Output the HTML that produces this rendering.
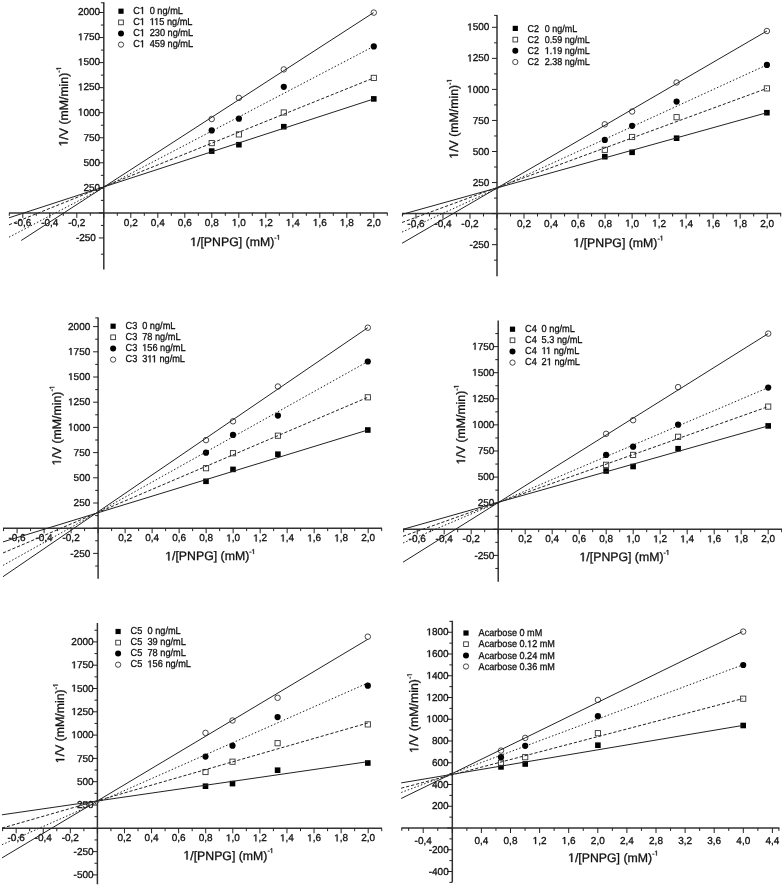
<!DOCTYPE html>
<html><head><meta charset="utf-8"><style>
html,body{margin:0;padding:0;background:#fff;}
svg{display:block;will-change:transform;}
text{font-family:"Liberation Sans", sans-serif;stroke:#111;stroke-width:0.3px;text-rendering:geometricPrecision;}
.o1{fill:transparent;stroke:transparent;}
</style></head><body>
<svg width="784" height="887" viewBox="0 0 784 887" font-family='"Liberation Sans", sans-serif'>
<defs><filter id="soft" x="0" y="0" width="100%" height="100%"><feGaussianBlur stdDeviation="0.35"/></filter></defs>
<rect width="784" height="887" fill="#fff"/>
<g filter="url(#soft)">
<line x1="9" y1="212.9" x2="387.6" y2="212.9" stroke="#333" stroke-width="1.5"/>
<line x1="103.8" y1="2.3" x2="103.8" y2="269.6" stroke="#333" stroke-width="1.5"/>
<line x1="9.3" y1="212.9" x2="9.3" y2="215.8" stroke="#222" stroke-width="1.0"/>
<line x1="22.8" y1="212.9" x2="22.8" y2="217.9" stroke="#222" stroke-width="1.0"/>
<line x1="36.3" y1="212.9" x2="36.3" y2="215.8" stroke="#222" stroke-width="1.0"/>
<line x1="49.8" y1="212.9" x2="49.8" y2="217.9" stroke="#222" stroke-width="1.0"/>
<line x1="63.3" y1="212.9" x2="63.3" y2="215.8" stroke="#222" stroke-width="1.0"/>
<line x1="76.8" y1="212.9" x2="76.8" y2="217.9" stroke="#222" stroke-width="1.0"/>
<line x1="90.3" y1="212.9" x2="90.3" y2="215.8" stroke="#222" stroke-width="1.0"/>
<line x1="103.8" y1="212.9" x2="103.8" y2="217.9" stroke="#222" stroke-width="1.0"/>
<line x1="117.3" y1="212.9" x2="117.3" y2="215.8" stroke="#222" stroke-width="1.0"/>
<line x1="130.8" y1="212.9" x2="130.8" y2="217.9" stroke="#222" stroke-width="1.0"/>
<line x1="144.3" y1="212.9" x2="144.3" y2="215.8" stroke="#222" stroke-width="1.0"/>
<line x1="157.8" y1="212.9" x2="157.8" y2="217.9" stroke="#222" stroke-width="1.0"/>
<line x1="171.3" y1="212.9" x2="171.3" y2="215.8" stroke="#222" stroke-width="1.0"/>
<line x1="184.8" y1="212.9" x2="184.8" y2="217.9" stroke="#222" stroke-width="1.0"/>
<line x1="198.3" y1="212.9" x2="198.3" y2="215.8" stroke="#222" stroke-width="1.0"/>
<line x1="211.8" y1="212.9" x2="211.8" y2="217.9" stroke="#222" stroke-width="1.0"/>
<line x1="225.3" y1="212.9" x2="225.3" y2="215.8" stroke="#222" stroke-width="1.0"/>
<line x1="238.8" y1="212.9" x2="238.8" y2="217.9" stroke="#222" stroke-width="1.0"/>
<line x1="252.3" y1="212.9" x2="252.3" y2="215.8" stroke="#222" stroke-width="1.0"/>
<line x1="265.8" y1="212.9" x2="265.8" y2="217.9" stroke="#222" stroke-width="1.0"/>
<line x1="279.3" y1="212.9" x2="279.3" y2="215.8" stroke="#222" stroke-width="1.0"/>
<line x1="292.8" y1="212.9" x2="292.8" y2="217.9" stroke="#222" stroke-width="1.0"/>
<line x1="306.3" y1="212.9" x2="306.3" y2="215.8" stroke="#222" stroke-width="1.0"/>
<line x1="319.8" y1="212.9" x2="319.8" y2="217.9" stroke="#222" stroke-width="1.0"/>
<line x1="333.3" y1="212.9" x2="333.3" y2="215.8" stroke="#222" stroke-width="1.0"/>
<line x1="346.8" y1="212.9" x2="346.8" y2="217.9" stroke="#222" stroke-width="1.0"/>
<line x1="360.3" y1="212.9" x2="360.3" y2="215.8" stroke="#222" stroke-width="1.0"/>
<line x1="373.8" y1="212.9" x2="373.8" y2="217.9" stroke="#222" stroke-width="1.0"/>
<line x1="387.3" y1="212.9" x2="387.3" y2="215.8" stroke="#222" stroke-width="1.0"/>
<line x1="98.8" y1="237.95" x2="103.8" y2="237.95" stroke="#222" stroke-width="1.0"/>
<line x1="100.9" y1="225.43" x2="103.8" y2="225.43" stroke="#222" stroke-width="1.0"/>
<line x1="98.8" y1="212.9" x2="103.8" y2="212.9" stroke="#222" stroke-width="1.0"/>
<line x1="100.9" y1="200.38" x2="103.8" y2="200.38" stroke="#222" stroke-width="1.0"/>
<line x1="98.8" y1="187.85" x2="103.8" y2="187.85" stroke="#222" stroke-width="1.0"/>
<line x1="100.9" y1="175.33" x2="103.8" y2="175.33" stroke="#222" stroke-width="1.0"/>
<line x1="98.8" y1="162.8" x2="103.8" y2="162.8" stroke="#222" stroke-width="1.0"/>
<line x1="100.9" y1="150.28" x2="103.8" y2="150.28" stroke="#222" stroke-width="1.0"/>
<line x1="98.8" y1="137.75" x2="103.8" y2="137.75" stroke="#222" stroke-width="1.0"/>
<line x1="100.9" y1="125.23" x2="103.8" y2="125.23" stroke="#222" stroke-width="1.0"/>
<line x1="98.8" y1="112.7" x2="103.8" y2="112.7" stroke="#222" stroke-width="1.0"/>
<line x1="100.9" y1="100.18" x2="103.8" y2="100.18" stroke="#222" stroke-width="1.0"/>
<line x1="98.8" y1="87.65" x2="103.8" y2="87.65" stroke="#222" stroke-width="1.0"/>
<line x1="100.9" y1="75.12" x2="103.8" y2="75.12" stroke="#222" stroke-width="1.0"/>
<line x1="98.8" y1="62.6" x2="103.8" y2="62.6" stroke="#222" stroke-width="1.0"/>
<line x1="100.9" y1="50.08" x2="103.8" y2="50.08" stroke="#222" stroke-width="1.0"/>
<line x1="98.8" y1="37.55" x2="103.8" y2="37.55" stroke="#222" stroke-width="1.0"/>
<line x1="100.9" y1="25.03" x2="103.8" y2="25.03" stroke="#222" stroke-width="1.0"/>
<line x1="98.8" y1="12.5" x2="103.8" y2="12.5" stroke="#222" stroke-width="1.0"/>
<line x1="100.9" y1="254.2" x2="103.8" y2="254.2" stroke="#222" stroke-width="1.0"/>
<line x1="100.9" y1="2.8" x2="103.8" y2="2.8" stroke="#222" stroke-width="1.0"/>
<text x="22.8" y="225.9" font-size="10" text-anchor="middle" fill="#111">-0,6</text>
<text x="49.8" y="225.9" font-size="10" text-anchor="middle" fill="#111">-0,4</text>
<text x="76.8" y="225.9" font-size="10" text-anchor="middle" fill="#111">-0,2</text>
<text x="130.8" y="225.9" font-size="10" text-anchor="middle" fill="#111">0,2</text>
<text x="157.8" y="225.9" font-size="10" text-anchor="middle" fill="#111">0,4</text>
<text x="184.8" y="225.9" font-size="10" text-anchor="middle" fill="#111">0,6</text>
<text x="211.8" y="225.9" font-size="10" text-anchor="middle" fill="#111">0,8</text>
<text x="238.8" y="225.9" font-size="10" text-anchor="middle" fill="#111"><tspan class="o1">1</tspan>,0</text>
<text x="265.8" y="225.9" font-size="10" text-anchor="middle" fill="#111"><tspan class="o1">1</tspan>,2</text>
<text x="292.8" y="225.9" font-size="10" text-anchor="middle" fill="#111"><tspan class="o1">1</tspan>,4</text>
<text x="319.8" y="225.9" font-size="10" text-anchor="middle" fill="#111"><tspan class="o1">1</tspan>,6</text>
<text x="346.8" y="225.9" font-size="10" text-anchor="middle" fill="#111"><tspan class="o1">1</tspan>,8</text>
<text x="373.8" y="225.9" font-size="10" text-anchor="middle" fill="#111">2,0</text>
<text x="95.9" y="240.75" font-size="10" text-anchor="end" fill="#111">-250</text>
<text x="100.2" y="190.65" font-size="10" text-anchor="end" fill="#111">250</text>
<text x="100.2" y="165.6" font-size="10" text-anchor="end" fill="#111">500</text>
<text x="100.2" y="140.55" font-size="10" text-anchor="end" fill="#111">750</text>
<text x="100.2" y="115.5" font-size="10" text-anchor="end" fill="#111"><tspan class="o1">1</tspan>000</text>
<text x="100.2" y="90.45" font-size="10" text-anchor="end" fill="#111"><tspan class="o1">1</tspan>250</text>
<text x="100.2" y="65.4" font-size="10" text-anchor="end" fill="#111"><tspan class="o1">1</tspan>500</text>
<text x="100.2" y="40.35" font-size="10" text-anchor="end" fill="#111"><tspan class="o1">1</tspan>750</text>
<text x="100.2" y="15.3" font-size="10" text-anchor="end" fill="#111">2000</text>
<text x="190.2" y="246.1" font-size="12.3" fill="#111"><tspan class="o1">1</tspan>/[PNPG] (mM)<tspan font-size="6.89" dy="-6.40">-<tspan class="o1">1</tspan></tspan></text>
<text transform="translate(67.5,146.5) rotate(-90)" font-size="12.3" fill="#111"><tspan class="o1">1</tspan>/V (mM/min)<tspan font-size="6.89" dy="-6.40">-<tspan class="o1">1</tspan></tspan></text>
<rect x="208.9" y="148.3" width="5.6" height="5.6" fill="#000"/>
<rect x="236.1" y="141.9" width="5.6" height="5.6" fill="#000"/>
<rect x="281" y="123.9" width="5.6" height="5.6" fill="#000"/>
<rect x="371" y="96.1" width="5.6" height="5.6" fill="#000"/>
<rect x="209.1" y="140.5" width="5.2" height="5.2" fill="#fff" stroke="#333" stroke-width="0.9"/>
<rect x="236.3" y="131.8" width="5.2" height="5.2" fill="#fff" stroke="#333" stroke-width="0.9"/>
<rect x="281.2" y="109.9" width="5.2" height="5.2" fill="#fff" stroke="#333" stroke-width="0.9"/>
<rect x="371.2" y="75.3" width="5.2" height="5.2" fill="#fff" stroke="#333" stroke-width="0.9"/>
<circle cx="211.7" cy="130.4" r="3.1" fill="#000"/>
<circle cx="238.9" cy="118.7" r="3.1" fill="#000"/>
<circle cx="283.8" cy="86.8" r="3.1" fill="#000"/>
<circle cx="373.8" cy="46.4" r="3.1" fill="#000"/>
<circle cx="211.7" cy="119" r="2.75" fill="#fff" stroke="#333" stroke-width="0.9"/>
<circle cx="238.9" cy="97.9" r="2.75" fill="#fff" stroke="#333" stroke-width="0.9"/>
<circle cx="283.8" cy="69.4" r="2.75" fill="#fff" stroke="#333" stroke-width="0.9"/>
<circle cx="373.8" cy="12.6" r="2.75" fill="#fff" stroke="#333" stroke-width="0.9"/>
<line x1="9" y1="217.8" x2="373.6" y2="99" stroke="#222" stroke-width="1.0"/>
<line x1="9" y1="224.8" x2="373.6" y2="78" stroke="#222" stroke-width="1.0" stroke-dasharray="3.2 1.9"/>
<line x1="9" y1="237.2" x2="373.6" y2="46.4" stroke="#222" stroke-width="1.0" stroke-dasharray="1.5 2.0"/>
<line x1="21.2" y1="240.5" x2="373.6" y2="12.6" stroke="#222" stroke-width="1.0"/>
<rect x="118.4" y="8.6" width="5.2" height="5.2" fill="#000"/>
<text transform="translate(133.2,13.9) scale(0.9091,1)" font-size="10.12" fill="#111">C<tspan class="o1">1</tspan></text>
<text transform="translate(149.7,13.9) scale(0.9091,1)" font-size="10.12" fill="#111">0 ng/mL</text>
<rect x="118.65" y="20.05" width="4.7" height="4.7" fill="#fff" stroke="#333" stroke-width="0.9"/>
<text transform="translate(133.2,25.1) scale(0.9091,1)" font-size="10.12" fill="#111">C<tspan class="o1">1</tspan></text>
<text transform="translate(149.7,25.1) scale(0.9091,1)" font-size="10.12" fill="#111"><tspan class="o1">1</tspan><tspan class="o1">1</tspan>5 ng/mL</text>
<circle cx="121" cy="33.5" r="3" fill="#000"/>
<text transform="translate(133.2,36.2) scale(0.9091,1)" font-size="10.12" fill="#111">C<tspan class="o1">1</tspan></text>
<text transform="translate(149.7,36.2) scale(0.9091,1)" font-size="10.12" fill="#111">230 ng/mL</text>
<circle cx="121" cy="44.6" r="2.65" fill="#fff" stroke="#333" stroke-width="0.9"/>
<text transform="translate(133.2,47.3) scale(0.9091,1)" font-size="10.12" fill="#111">C<tspan class="o1">1</tspan></text>
<text transform="translate(149.7,47.3) scale(0.9091,1)" font-size="10.12" fill="#111">459 ng/mL</text>
<line x1="402" y1="213.6" x2="781.2" y2="213.6" stroke="#333" stroke-width="1.5"/>
<line x1="497" y1="14.9" x2="497" y2="276.3" stroke="#333" stroke-width="1.5"/>
<line x1="402.43" y1="213.6" x2="402.43" y2="216.5" stroke="#222" stroke-width="1.0"/>
<line x1="415.94" y1="213.6" x2="415.94" y2="218.6" stroke="#222" stroke-width="1.0"/>
<line x1="429.45" y1="213.6" x2="429.45" y2="216.5" stroke="#222" stroke-width="1.0"/>
<line x1="442.96" y1="213.6" x2="442.96" y2="218.6" stroke="#222" stroke-width="1.0"/>
<line x1="456.47" y1="213.6" x2="456.47" y2="216.5" stroke="#222" stroke-width="1.0"/>
<line x1="469.98" y1="213.6" x2="469.98" y2="218.6" stroke="#222" stroke-width="1.0"/>
<line x1="483.49" y1="213.6" x2="483.49" y2="216.5" stroke="#222" stroke-width="1.0"/>
<line x1="497" y1="213.6" x2="497" y2="218.6" stroke="#222" stroke-width="1.0"/>
<line x1="510.51" y1="213.6" x2="510.51" y2="216.5" stroke="#222" stroke-width="1.0"/>
<line x1="524.02" y1="213.6" x2="524.02" y2="218.6" stroke="#222" stroke-width="1.0"/>
<line x1="537.53" y1="213.6" x2="537.53" y2="216.5" stroke="#222" stroke-width="1.0"/>
<line x1="551.04" y1="213.6" x2="551.04" y2="218.6" stroke="#222" stroke-width="1.0"/>
<line x1="564.55" y1="213.6" x2="564.55" y2="216.5" stroke="#222" stroke-width="1.0"/>
<line x1="578.06" y1="213.6" x2="578.06" y2="218.6" stroke="#222" stroke-width="1.0"/>
<line x1="591.57" y1="213.6" x2="591.57" y2="216.5" stroke="#222" stroke-width="1.0"/>
<line x1="605.08" y1="213.6" x2="605.08" y2="218.6" stroke="#222" stroke-width="1.0"/>
<line x1="618.59" y1="213.6" x2="618.59" y2="216.5" stroke="#222" stroke-width="1.0"/>
<line x1="632.1" y1="213.6" x2="632.1" y2="218.6" stroke="#222" stroke-width="1.0"/>
<line x1="645.61" y1="213.6" x2="645.61" y2="216.5" stroke="#222" stroke-width="1.0"/>
<line x1="659.12" y1="213.6" x2="659.12" y2="218.6" stroke="#222" stroke-width="1.0"/>
<line x1="672.63" y1="213.6" x2="672.63" y2="216.5" stroke="#222" stroke-width="1.0"/>
<line x1="686.14" y1="213.6" x2="686.14" y2="218.6" stroke="#222" stroke-width="1.0"/>
<line x1="699.65" y1="213.6" x2="699.65" y2="216.5" stroke="#222" stroke-width="1.0"/>
<line x1="713.16" y1="213.6" x2="713.16" y2="218.6" stroke="#222" stroke-width="1.0"/>
<line x1="726.67" y1="213.6" x2="726.67" y2="216.5" stroke="#222" stroke-width="1.0"/>
<line x1="740.18" y1="213.6" x2="740.18" y2="218.6" stroke="#222" stroke-width="1.0"/>
<line x1="753.69" y1="213.6" x2="753.69" y2="216.5" stroke="#222" stroke-width="1.0"/>
<line x1="767.2" y1="213.6" x2="767.2" y2="218.6" stroke="#222" stroke-width="1.0"/>
<line x1="780.71" y1="213.6" x2="780.71" y2="216.5" stroke="#222" stroke-width="1.0"/>
<line x1="494.1" y1="260.18" x2="497" y2="260.18" stroke="#222" stroke-width="1.0"/>
<line x1="492" y1="244.65" x2="497" y2="244.65" stroke="#222" stroke-width="1.0"/>
<line x1="494.1" y1="229.12" x2="497" y2="229.12" stroke="#222" stroke-width="1.0"/>
<line x1="492" y1="213.6" x2="497" y2="213.6" stroke="#222" stroke-width="1.0"/>
<line x1="494.1" y1="198.07" x2="497" y2="198.07" stroke="#222" stroke-width="1.0"/>
<line x1="492" y1="182.55" x2="497" y2="182.55" stroke="#222" stroke-width="1.0"/>
<line x1="494.1" y1="167.02" x2="497" y2="167.02" stroke="#222" stroke-width="1.0"/>
<line x1="492" y1="151.5" x2="497" y2="151.5" stroke="#222" stroke-width="1.0"/>
<line x1="494.1" y1="135.97" x2="497" y2="135.97" stroke="#222" stroke-width="1.0"/>
<line x1="492" y1="120.45" x2="497" y2="120.45" stroke="#222" stroke-width="1.0"/>
<line x1="494.1" y1="104.92" x2="497" y2="104.92" stroke="#222" stroke-width="1.0"/>
<line x1="492" y1="89.4" x2="497" y2="89.4" stroke="#222" stroke-width="1.0"/>
<line x1="494.1" y1="73.88" x2="497" y2="73.88" stroke="#222" stroke-width="1.0"/>
<line x1="492" y1="58.35" x2="497" y2="58.35" stroke="#222" stroke-width="1.0"/>
<line x1="494.1" y1="42.82" x2="497" y2="42.82" stroke="#222" stroke-width="1.0"/>
<line x1="492" y1="27.3" x2="497" y2="27.3" stroke="#222" stroke-width="1.0"/>
<line x1="494.1" y1="15.4" x2="497" y2="15.4" stroke="#222" stroke-width="1.0"/>
<text x="415.94" y="226.6" font-size="10" text-anchor="middle" fill="#111">-0,6</text>
<text x="442.96" y="226.6" font-size="10" text-anchor="middle" fill="#111">-0,4</text>
<text x="469.98" y="226.6" font-size="10" text-anchor="middle" fill="#111">-0,2</text>
<text x="524.02" y="226.6" font-size="10" text-anchor="middle" fill="#111">0,2</text>
<text x="551.04" y="226.6" font-size="10" text-anchor="middle" fill="#111">0,4</text>
<text x="578.06" y="226.6" font-size="10" text-anchor="middle" fill="#111">0,6</text>
<text x="605.08" y="226.6" font-size="10" text-anchor="middle" fill="#111">0,8</text>
<text x="632.1" y="226.6" font-size="10" text-anchor="middle" fill="#111"><tspan class="o1">1</tspan>,0</text>
<text x="659.12" y="226.6" font-size="10" text-anchor="middle" fill="#111"><tspan class="o1">1</tspan>,2</text>
<text x="686.14" y="226.6" font-size="10" text-anchor="middle" fill="#111"><tspan class="o1">1</tspan>,4</text>
<text x="713.16" y="226.6" font-size="10" text-anchor="middle" fill="#111"><tspan class="o1">1</tspan>,6</text>
<text x="740.18" y="226.6" font-size="10" text-anchor="middle" fill="#111"><tspan class="o1">1</tspan>,8</text>
<text x="767.2" y="226.6" font-size="10" text-anchor="middle" fill="#111">2,0</text>
<text x="489.4" y="247.75" font-size="10" text-anchor="end" fill="#111">-250</text>
<text x="489.4" y="185.65" font-size="10" text-anchor="end" fill="#111">250</text>
<text x="489.4" y="154.6" font-size="10" text-anchor="end" fill="#111">500</text>
<text x="489.4" y="123.55" font-size="10" text-anchor="end" fill="#111">750</text>
<text x="489.4" y="92.5" font-size="10" text-anchor="end" fill="#111"><tspan class="o1">1</tspan>000</text>
<text x="489.4" y="61.45" font-size="10" text-anchor="end" fill="#111"><tspan class="o1">1</tspan>250</text>
<text x="489.4" y="30.4" font-size="10" text-anchor="end" fill="#111"><tspan class="o1">1</tspan>500</text>
<text x="573.4" y="246.9" font-size="12.3" fill="#111"><tspan class="o1">1</tspan>/[PNPG] (mM)<tspan font-size="6.89" dy="-6.40">-<tspan class="o1">1</tspan></tspan></text>
<text transform="translate(458,158.7) rotate(-90)" font-size="12.3" fill="#111"><tspan class="o1">1</tspan>/V (mM/min)<tspan font-size="6.89" dy="-6.40">-<tspan class="o1">1</tspan></tspan></text>
<rect x="602" y="153.9" width="5.6" height="5.6" fill="#000"/>
<rect x="629.3" y="149.5" width="5.6" height="5.6" fill="#000"/>
<rect x="673.8" y="135.4" width="5.6" height="5.6" fill="#000"/>
<rect x="764.1" y="109.9" width="5.6" height="5.6" fill="#000"/>
<rect x="602.2" y="147.2" width="5.2" height="5.2" fill="#fff" stroke="#333" stroke-width="0.9"/>
<rect x="629.5" y="134.4" width="5.2" height="5.2" fill="#fff" stroke="#333" stroke-width="0.9"/>
<rect x="674" y="114.6" width="5.2" height="5.2" fill="#fff" stroke="#333" stroke-width="0.9"/>
<rect x="764.3" y="85.8" width="5.2" height="5.2" fill="#fff" stroke="#333" stroke-width="0.9"/>
<circle cx="604.8" cy="139.9" r="3.1" fill="#000"/>
<circle cx="632.1" cy="125.8" r="3.1" fill="#000"/>
<circle cx="676.6" cy="101.6" r="3.1" fill="#000"/>
<circle cx="766.9" cy="64.9" r="3.1" fill="#000"/>
<circle cx="604.8" cy="124.3" r="2.75" fill="#fff" stroke="#333" stroke-width="0.9"/>
<circle cx="632.1" cy="111.5" r="2.75" fill="#fff" stroke="#333" stroke-width="0.9"/>
<circle cx="676.6" cy="82.5" r="2.75" fill="#fff" stroke="#333" stroke-width="0.9"/>
<circle cx="766.9" cy="31" r="2.75" fill="#fff" stroke="#333" stroke-width="0.9"/>
<line x1="402" y1="214.4" x2="766.9" y2="112.7" stroke="#222" stroke-width="1.0"/>
<line x1="402" y1="222.5" x2="766.9" y2="88.4" stroke="#222" stroke-width="1.0" stroke-dasharray="3.2 1.9"/>
<line x1="402" y1="232.1" x2="766.9" y2="64.9" stroke="#222" stroke-width="1.0" stroke-dasharray="1.5 2.0"/>
<line x1="402" y1="243.3" x2="766.9" y2="31" stroke="#222" stroke-width="1.0"/>
<rect x="512.7" y="25.8" width="5.2" height="5.2" fill="#000"/>
<text transform="translate(527.6,31.6) scale(0.9091,1)" font-size="9.90" fill="#111">C2</text>
<text transform="translate(544.8,31.6) scale(0.9091,1)" font-size="9.90" fill="#111">0 ng/mL</text>
<rect x="512.95" y="37.25" width="4.7" height="4.7" fill="#fff" stroke="#333" stroke-width="0.9"/>
<text transform="translate(527.6,42.8) scale(0.9091,1)" font-size="9.90" fill="#111">C2</text>
<text transform="translate(544.8,42.8) scale(0.9091,1)" font-size="9.90" fill="#111">0.59 ng/mL</text>
<circle cx="515.3" cy="50.8" r="3" fill="#000"/>
<text transform="translate(527.6,54) scale(0.9091,1)" font-size="9.90" fill="#111">C2</text>
<text transform="translate(544.8,54) scale(0.9091,1)" font-size="9.90" fill="#111"><tspan class="o1">1</tspan>.<tspan class="o1">1</tspan>9 ng/mL</text>
<circle cx="515.3" cy="62" r="2.65" fill="#fff" stroke="#333" stroke-width="0.9"/>
<text transform="translate(527.6,65.2) scale(0.9091,1)" font-size="9.90" fill="#111">C2</text>
<text transform="translate(544.8,65.2) scale(0.9091,1)" font-size="9.90" fill="#111">2.38 ng/mL</text>
<line x1="3" y1="528.2" x2="382" y2="528.2" stroke="#333" stroke-width="1.5"/>
<line x1="98.1" y1="317.4" x2="98.1" y2="578.7" stroke="#333" stroke-width="1.5"/>
<line x1="3.56" y1="528.2" x2="3.56" y2="531.1" stroke="#222" stroke-width="1.0"/>
<line x1="17.07" y1="528.2" x2="17.07" y2="533.2" stroke="#222" stroke-width="1.0"/>
<line x1="30.57" y1="528.2" x2="30.57" y2="531.1" stroke="#222" stroke-width="1.0"/>
<line x1="44.08" y1="528.2" x2="44.08" y2="533.2" stroke="#222" stroke-width="1.0"/>
<line x1="57.58" y1="528.2" x2="57.58" y2="531.1" stroke="#222" stroke-width="1.0"/>
<line x1="71.09" y1="528.2" x2="71.09" y2="533.2" stroke="#222" stroke-width="1.0"/>
<line x1="84.59" y1="528.2" x2="84.59" y2="531.1" stroke="#222" stroke-width="1.0"/>
<line x1="98.1" y1="528.2" x2="98.1" y2="533.2" stroke="#222" stroke-width="1.0"/>
<line x1="111.6" y1="528.2" x2="111.6" y2="531.1" stroke="#222" stroke-width="1.0"/>
<line x1="125.11" y1="528.2" x2="125.11" y2="533.2" stroke="#222" stroke-width="1.0"/>
<line x1="138.62" y1="528.2" x2="138.62" y2="531.1" stroke="#222" stroke-width="1.0"/>
<line x1="152.12" y1="528.2" x2="152.12" y2="533.2" stroke="#222" stroke-width="1.0"/>
<line x1="165.62" y1="528.2" x2="165.62" y2="531.1" stroke="#222" stroke-width="1.0"/>
<line x1="179.13" y1="528.2" x2="179.13" y2="533.2" stroke="#222" stroke-width="1.0"/>
<line x1="192.63" y1="528.2" x2="192.63" y2="531.1" stroke="#222" stroke-width="1.0"/>
<line x1="206.14" y1="528.2" x2="206.14" y2="533.2" stroke="#222" stroke-width="1.0"/>
<line x1="219.65" y1="528.2" x2="219.65" y2="531.1" stroke="#222" stroke-width="1.0"/>
<line x1="233.15" y1="528.2" x2="233.15" y2="533.2" stroke="#222" stroke-width="1.0"/>
<line x1="246.66" y1="528.2" x2="246.66" y2="531.1" stroke="#222" stroke-width="1.0"/>
<line x1="260.16" y1="528.2" x2="260.16" y2="533.2" stroke="#222" stroke-width="1.0"/>
<line x1="273.67" y1="528.2" x2="273.67" y2="531.1" stroke="#222" stroke-width="1.0"/>
<line x1="287.17" y1="528.2" x2="287.17" y2="533.2" stroke="#222" stroke-width="1.0"/>
<line x1="300.68" y1="528.2" x2="300.68" y2="531.1" stroke="#222" stroke-width="1.0"/>
<line x1="314.18" y1="528.2" x2="314.18" y2="533.2" stroke="#222" stroke-width="1.0"/>
<line x1="327.69" y1="528.2" x2="327.69" y2="531.1" stroke="#222" stroke-width="1.0"/>
<line x1="341.19" y1="528.2" x2="341.19" y2="533.2" stroke="#222" stroke-width="1.0"/>
<line x1="354.7" y1="528.2" x2="354.7" y2="531.1" stroke="#222" stroke-width="1.0"/>
<line x1="368.2" y1="528.2" x2="368.2" y2="533.2" stroke="#222" stroke-width="1.0"/>
<line x1="381.71" y1="528.2" x2="381.71" y2="531.1" stroke="#222" stroke-width="1.0"/>
<line x1="95.2" y1="566" x2="98.1" y2="566" stroke="#222" stroke-width="1.0"/>
<line x1="93.1" y1="553.4" x2="98.1" y2="553.4" stroke="#222" stroke-width="1.0"/>
<line x1="95.2" y1="540.8" x2="98.1" y2="540.8" stroke="#222" stroke-width="1.0"/>
<line x1="93.1" y1="528.2" x2="98.1" y2="528.2" stroke="#222" stroke-width="1.0"/>
<line x1="95.2" y1="515.6" x2="98.1" y2="515.6" stroke="#222" stroke-width="1.0"/>
<line x1="93.1" y1="503" x2="98.1" y2="503" stroke="#222" stroke-width="1.0"/>
<line x1="95.2" y1="490.4" x2="98.1" y2="490.4" stroke="#222" stroke-width="1.0"/>
<line x1="93.1" y1="477.8" x2="98.1" y2="477.8" stroke="#222" stroke-width="1.0"/>
<line x1="95.2" y1="465.2" x2="98.1" y2="465.2" stroke="#222" stroke-width="1.0"/>
<line x1="93.1" y1="452.6" x2="98.1" y2="452.6" stroke="#222" stroke-width="1.0"/>
<line x1="95.2" y1="440" x2="98.1" y2="440" stroke="#222" stroke-width="1.0"/>
<line x1="93.1" y1="427.4" x2="98.1" y2="427.4" stroke="#222" stroke-width="1.0"/>
<line x1="95.2" y1="414.8" x2="98.1" y2="414.8" stroke="#222" stroke-width="1.0"/>
<line x1="93.1" y1="402.2" x2="98.1" y2="402.2" stroke="#222" stroke-width="1.0"/>
<line x1="95.2" y1="389.6" x2="98.1" y2="389.6" stroke="#222" stroke-width="1.0"/>
<line x1="93.1" y1="377" x2="98.1" y2="377" stroke="#222" stroke-width="1.0"/>
<line x1="95.2" y1="364.4" x2="98.1" y2="364.4" stroke="#222" stroke-width="1.0"/>
<line x1="93.1" y1="351.8" x2="98.1" y2="351.8" stroke="#222" stroke-width="1.0"/>
<line x1="95.2" y1="339.2" x2="98.1" y2="339.2" stroke="#222" stroke-width="1.0"/>
<line x1="93.1" y1="326.6" x2="98.1" y2="326.6" stroke="#222" stroke-width="1.0"/>
<line x1="95.2" y1="317.9" x2="98.1" y2="317.9" stroke="#222" stroke-width="1.0"/>
<text x="17.07" y="541.4" font-size="10" text-anchor="middle" fill="#111">-0,6</text>
<text x="44.08" y="541.4" font-size="10" text-anchor="middle" fill="#111">-0,4</text>
<text x="71.09" y="541.4" font-size="10" text-anchor="middle" fill="#111">-0,2</text>
<text x="125.11" y="541.4" font-size="10" text-anchor="middle" fill="#111">0,2</text>
<text x="152.12" y="541.4" font-size="10" text-anchor="middle" fill="#111">0,4</text>
<text x="179.13" y="541.4" font-size="10" text-anchor="middle" fill="#111">0,6</text>
<text x="206.14" y="541.4" font-size="10" text-anchor="middle" fill="#111">0,8</text>
<text x="233.15" y="541.4" font-size="10" text-anchor="middle" fill="#111"><tspan class="o1">1</tspan>,0</text>
<text x="260.16" y="541.4" font-size="10" text-anchor="middle" fill="#111"><tspan class="o1">1</tspan>,2</text>
<text x="287.17" y="541.4" font-size="10" text-anchor="middle" fill="#111"><tspan class="o1">1</tspan>,4</text>
<text x="314.18" y="541.4" font-size="10" text-anchor="middle" fill="#111"><tspan class="o1">1</tspan>,6</text>
<text x="341.19" y="541.4" font-size="10" text-anchor="middle" fill="#111"><tspan class="o1">1</tspan>,8</text>
<text x="368.2" y="541.4" font-size="10" text-anchor="middle" fill="#111">2,0</text>
<text x="90.3" y="556.5" font-size="10" text-anchor="end" fill="#111">-250</text>
<text x="90.3" y="506.1" font-size="10" text-anchor="end" fill="#111">250</text>
<text x="90.3" y="480.9" font-size="10" text-anchor="end" fill="#111">500</text>
<text x="90.3" y="455.7" font-size="10" text-anchor="end" fill="#111">750</text>
<text x="90.3" y="430.5" font-size="10" text-anchor="end" fill="#111"><tspan class="o1">1</tspan>000</text>
<text x="90.3" y="405.3" font-size="10" text-anchor="end" fill="#111"><tspan class="o1">1</tspan>250</text>
<text x="90.3" y="380.1" font-size="10" text-anchor="end" fill="#111"><tspan class="o1">1</tspan>500</text>
<text x="90.3" y="354.9" font-size="10" text-anchor="end" fill="#111"><tspan class="o1">1</tspan>750</text>
<text x="90.3" y="329.7" font-size="10" text-anchor="end" fill="#111">2000</text>
<text x="165.2" y="560.4" font-size="12.3" fill="#111"><tspan class="o1">1</tspan>/[PNPG] (mM)<tspan font-size="6.89" dy="-6.40">-<tspan class="o1">1</tspan></tspan></text>
<text transform="translate(60.8,465.4) rotate(-90)" font-size="12.3" fill="#111"><tspan class="o1">1</tspan>/V (mM/min)<tspan font-size="6.89" dy="-6.40">-<tspan class="o1">1</tspan></tspan></text>
<rect x="203.2" y="478.5" width="5.6" height="5.6" fill="#000"/>
<rect x="230.2" y="466.6" width="5.6" height="5.6" fill="#000"/>
<rect x="275.1" y="451.4" width="5.6" height="5.6" fill="#000"/>
<rect x="365" y="427.2" width="5.6" height="5.6" fill="#000"/>
<rect x="203.4" y="465.6" width="5.2" height="5.2" fill="#fff" stroke="#333" stroke-width="0.9"/>
<rect x="230.4" y="450.6" width="5.2" height="5.2" fill="#fff" stroke="#333" stroke-width="0.9"/>
<rect x="275.3" y="433.1" width="5.2" height="5.2" fill="#fff" stroke="#333" stroke-width="0.9"/>
<rect x="365.2" y="394.7" width="5.2" height="5.2" fill="#fff" stroke="#333" stroke-width="0.9"/>
<circle cx="206" cy="452.7" r="3.1" fill="#000"/>
<circle cx="233" cy="434.9" r="3.1" fill="#000"/>
<circle cx="277.9" cy="415.6" r="3.1" fill="#000"/>
<circle cx="367.8" cy="361.5" r="3.1" fill="#000"/>
<circle cx="206" cy="440.1" r="2.75" fill="#fff" stroke="#333" stroke-width="0.9"/>
<circle cx="233" cy="421.3" r="2.75" fill="#fff" stroke="#333" stroke-width="0.9"/>
<circle cx="277.9" cy="386.5" r="2.75" fill="#fff" stroke="#333" stroke-width="0.9"/>
<circle cx="367.8" cy="327.7" r="2.75" fill="#fff" stroke="#333" stroke-width="0.9"/>
<line x1="3" y1="541.9" x2="367.8" y2="430" stroke="#222" stroke-width="1.0"/>
<line x1="3" y1="553" x2="367.8" y2="397.3" stroke="#222" stroke-width="1.0" stroke-dasharray="3.2 1.9"/>
<line x1="3" y1="565.4" x2="367.8" y2="361.5" stroke="#222" stroke-width="1.0" stroke-dasharray="1.5 2.0"/>
<line x1="3" y1="576.7" x2="367.8" y2="327.7" stroke="#222" stroke-width="1.0"/>
<rect x="110.5" y="323.6" width="5.2" height="5.2" fill="#000"/>
<text transform="translate(125.6,328.9) scale(0.9091,1)" font-size="10.12" fill="#111">C3</text>
<text transform="translate(142.2,328.9) scale(0.9091,1)" font-size="10.12" fill="#111">0 ng/mL</text>
<rect x="110.75" y="334.95" width="4.7" height="4.7" fill="#fff" stroke="#333" stroke-width="0.9"/>
<text transform="translate(125.6,340) scale(0.9091,1)" font-size="10.12" fill="#111">C3</text>
<text transform="translate(142.2,340) scale(0.9091,1)" font-size="10.12" fill="#111">78 ng/mL</text>
<circle cx="113.1" cy="348.4" r="3" fill="#000"/>
<text transform="translate(125.6,351.1) scale(0.9091,1)" font-size="10.12" fill="#111">C3</text>
<text transform="translate(142.2,351.1) scale(0.9091,1)" font-size="10.12" fill="#111"><tspan class="o1">1</tspan>56 ng/mL</text>
<circle cx="113.1" cy="359.6" r="2.65" fill="#fff" stroke="#333" stroke-width="0.9"/>
<text transform="translate(125.6,362.3) scale(0.9091,1)" font-size="10.12" fill="#111">C3</text>
<text transform="translate(142.2,362.3) scale(0.9091,1)" font-size="10.12" fill="#111">3<tspan class="o1">1</tspan><tspan class="o1">1</tspan> ng/mL</text>
<line x1="403" y1="529.3" x2="782" y2="529.3" stroke="#333" stroke-width="1.5"/>
<line x1="498.2" y1="320.5" x2="498.2" y2="581.7" stroke="#333" stroke-width="1.5"/>
<line x1="403.7" y1="529.3" x2="403.7" y2="532.2" stroke="#222" stroke-width="1.0"/>
<line x1="417.2" y1="529.3" x2="417.2" y2="534.3" stroke="#222" stroke-width="1.0"/>
<line x1="430.7" y1="529.3" x2="430.7" y2="532.2" stroke="#222" stroke-width="1.0"/>
<line x1="444.2" y1="529.3" x2="444.2" y2="534.3" stroke="#222" stroke-width="1.0"/>
<line x1="457.7" y1="529.3" x2="457.7" y2="532.2" stroke="#222" stroke-width="1.0"/>
<line x1="471.2" y1="529.3" x2="471.2" y2="534.3" stroke="#222" stroke-width="1.0"/>
<line x1="484.7" y1="529.3" x2="484.7" y2="532.2" stroke="#222" stroke-width="1.0"/>
<line x1="498.2" y1="529.3" x2="498.2" y2="534.3" stroke="#222" stroke-width="1.0"/>
<line x1="511.7" y1="529.3" x2="511.7" y2="532.2" stroke="#222" stroke-width="1.0"/>
<line x1="525.2" y1="529.3" x2="525.2" y2="534.3" stroke="#222" stroke-width="1.0"/>
<line x1="538.7" y1="529.3" x2="538.7" y2="532.2" stroke="#222" stroke-width="1.0"/>
<line x1="552.2" y1="529.3" x2="552.2" y2="534.3" stroke="#222" stroke-width="1.0"/>
<line x1="565.7" y1="529.3" x2="565.7" y2="532.2" stroke="#222" stroke-width="1.0"/>
<line x1="579.2" y1="529.3" x2="579.2" y2="534.3" stroke="#222" stroke-width="1.0"/>
<line x1="592.7" y1="529.3" x2="592.7" y2="532.2" stroke="#222" stroke-width="1.0"/>
<line x1="606.2" y1="529.3" x2="606.2" y2="534.3" stroke="#222" stroke-width="1.0"/>
<line x1="619.7" y1="529.3" x2="619.7" y2="532.2" stroke="#222" stroke-width="1.0"/>
<line x1="633.2" y1="529.3" x2="633.2" y2="534.3" stroke="#222" stroke-width="1.0"/>
<line x1="646.7" y1="529.3" x2="646.7" y2="532.2" stroke="#222" stroke-width="1.0"/>
<line x1="660.2" y1="529.3" x2="660.2" y2="534.3" stroke="#222" stroke-width="1.0"/>
<line x1="673.7" y1="529.3" x2="673.7" y2="532.2" stroke="#222" stroke-width="1.0"/>
<line x1="687.2" y1="529.3" x2="687.2" y2="534.3" stroke="#222" stroke-width="1.0"/>
<line x1="700.7" y1="529.3" x2="700.7" y2="532.2" stroke="#222" stroke-width="1.0"/>
<line x1="714.2" y1="529.3" x2="714.2" y2="534.3" stroke="#222" stroke-width="1.0"/>
<line x1="727.7" y1="529.3" x2="727.7" y2="532.2" stroke="#222" stroke-width="1.0"/>
<line x1="741.2" y1="529.3" x2="741.2" y2="534.3" stroke="#222" stroke-width="1.0"/>
<line x1="754.7" y1="529.3" x2="754.7" y2="532.2" stroke="#222" stroke-width="1.0"/>
<line x1="768.2" y1="529.3" x2="768.2" y2="534.3" stroke="#222" stroke-width="1.0"/>
<line x1="781.7" y1="529.3" x2="781.7" y2="532.2" stroke="#222" stroke-width="1.0"/>
<line x1="495.3" y1="568.45" x2="498.2" y2="568.45" stroke="#222" stroke-width="1.0"/>
<line x1="493.2" y1="555.4" x2="498.2" y2="555.4" stroke="#222" stroke-width="1.0"/>
<line x1="495.3" y1="542.35" x2="498.2" y2="542.35" stroke="#222" stroke-width="1.0"/>
<line x1="493.2" y1="529.3" x2="498.2" y2="529.3" stroke="#222" stroke-width="1.0"/>
<line x1="495.3" y1="516.25" x2="498.2" y2="516.25" stroke="#222" stroke-width="1.0"/>
<line x1="493.2" y1="503.2" x2="498.2" y2="503.2" stroke="#222" stroke-width="1.0"/>
<line x1="495.3" y1="490.15" x2="498.2" y2="490.15" stroke="#222" stroke-width="1.0"/>
<line x1="493.2" y1="477.1" x2="498.2" y2="477.1" stroke="#222" stroke-width="1.0"/>
<line x1="495.3" y1="464.05" x2="498.2" y2="464.05" stroke="#222" stroke-width="1.0"/>
<line x1="493.2" y1="451" x2="498.2" y2="451" stroke="#222" stroke-width="1.0"/>
<line x1="495.3" y1="437.95" x2="498.2" y2="437.95" stroke="#222" stroke-width="1.0"/>
<line x1="493.2" y1="424.9" x2="498.2" y2="424.9" stroke="#222" stroke-width="1.0"/>
<line x1="495.3" y1="411.85" x2="498.2" y2="411.85" stroke="#222" stroke-width="1.0"/>
<line x1="493.2" y1="398.8" x2="498.2" y2="398.8" stroke="#222" stroke-width="1.0"/>
<line x1="495.3" y1="385.75" x2="498.2" y2="385.75" stroke="#222" stroke-width="1.0"/>
<line x1="493.2" y1="372.7" x2="498.2" y2="372.7" stroke="#222" stroke-width="1.0"/>
<line x1="495.3" y1="359.65" x2="498.2" y2="359.65" stroke="#222" stroke-width="1.0"/>
<line x1="493.2" y1="346.6" x2="498.2" y2="346.6" stroke="#222" stroke-width="1.0"/>
<line x1="495.3" y1="333.55" x2="498.2" y2="333.55" stroke="#222" stroke-width="1.0"/>
<text x="417.2" y="542.3" font-size="10" text-anchor="middle" fill="#111">-0,6</text>
<text x="444.2" y="542.3" font-size="10" text-anchor="middle" fill="#111">-0,4</text>
<text x="471.2" y="542.3" font-size="10" text-anchor="middle" fill="#111">-0,2</text>
<text x="525.2" y="542.3" font-size="10" text-anchor="middle" fill="#111">0,2</text>
<text x="552.2" y="542.3" font-size="10" text-anchor="middle" fill="#111">0,4</text>
<text x="579.2" y="542.3" font-size="10" text-anchor="middle" fill="#111">0,6</text>
<text x="606.2" y="542.3" font-size="10" text-anchor="middle" fill="#111">0,8</text>
<text x="633.2" y="542.3" font-size="10" text-anchor="middle" fill="#111"><tspan class="o1">1</tspan>,0</text>
<text x="660.2" y="542.3" font-size="10" text-anchor="middle" fill="#111"><tspan class="o1">1</tspan>,2</text>
<text x="687.2" y="542.3" font-size="10" text-anchor="middle" fill="#111"><tspan class="o1">1</tspan>,4</text>
<text x="714.2" y="542.3" font-size="10" text-anchor="middle" fill="#111"><tspan class="o1">1</tspan>,6</text>
<text x="741.2" y="542.3" font-size="10" text-anchor="middle" fill="#111"><tspan class="o1">1</tspan>,8</text>
<text x="768.2" y="542.3" font-size="10" text-anchor="middle" fill="#111">2,0</text>
<text x="494.4" y="558.5" font-size="10" text-anchor="end" fill="#111">-250</text>
<text x="494.4" y="506.3" font-size="10" text-anchor="end" fill="#111">250</text>
<text x="494.4" y="480.2" font-size="10" text-anchor="end" fill="#111">500</text>
<text x="494.4" y="454.1" font-size="10" text-anchor="end" fill="#111">750</text>
<text x="494.4" y="428" font-size="10" text-anchor="end" fill="#111"><tspan class="o1">1</tspan>000</text>
<text x="494.4" y="401.9" font-size="10" text-anchor="end" fill="#111"><tspan class="o1">1</tspan>250</text>
<text x="494.4" y="375.8" font-size="10" text-anchor="end" fill="#111"><tspan class="o1">1</tspan>500</text>
<text x="494.4" y="349.7" font-size="10" text-anchor="end" fill="#111"><tspan class="o1">1</tspan>750</text>
<text x="579.5" y="561.2" font-size="12.3" fill="#111"><tspan class="o1">1</tspan>/[PNPG] (mM)<tspan font-size="6.89" dy="-6.40">-<tspan class="o1">1</tspan></tspan></text>
<text transform="translate(465.1,464.5) rotate(-90)" font-size="12.3" fill="#111"><tspan class="o1">1</tspan>/V (mM/min)<tspan font-size="6.89" dy="-6.40">-<tspan class="o1">1</tspan></tspan></text>
<rect x="603.3" y="468.2" width="5.6" height="5.6" fill="#000"/>
<rect x="630.3" y="463.7" width="5.6" height="5.6" fill="#000"/>
<rect x="675.3" y="445.9" width="5.6" height="5.6" fill="#000"/>
<rect x="765.4" y="423.1" width="5.6" height="5.6" fill="#000"/>
<rect x="603.5" y="462.2" width="5.2" height="5.2" fill="#fff" stroke="#333" stroke-width="0.9"/>
<rect x="630.5" y="452.3" width="5.2" height="5.2" fill="#fff" stroke="#333" stroke-width="0.9"/>
<rect x="675.5" y="434.2" width="5.2" height="5.2" fill="#fff" stroke="#333" stroke-width="0.9"/>
<rect x="765.6" y="404" width="5.2" height="5.2" fill="#fff" stroke="#333" stroke-width="0.9"/>
<circle cx="606.1" cy="454.9" r="3.1" fill="#000"/>
<circle cx="633.1" cy="446.7" r="3.1" fill="#000"/>
<circle cx="678.1" cy="424.7" r="3.1" fill="#000"/>
<circle cx="768.2" cy="387.6" r="3.1" fill="#000"/>
<circle cx="606.1" cy="433.8" r="2.75" fill="#fff" stroke="#333" stroke-width="0.9"/>
<circle cx="633.1" cy="420.2" r="2.75" fill="#fff" stroke="#333" stroke-width="0.9"/>
<circle cx="678.1" cy="387.1" r="2.75" fill="#fff" stroke="#333" stroke-width="0.9"/>
<circle cx="768.2" cy="333.6" r="2.75" fill="#fff" stroke="#333" stroke-width="0.9"/>
<line x1="403" y1="529.3" x2="768.2" y2="425.9" stroke="#222" stroke-width="1.0"/>
<line x1="403" y1="536.3" x2="768.2" y2="406.6" stroke="#222" stroke-width="1.0" stroke-dasharray="3.2 1.9"/>
<line x1="403" y1="543" x2="768.2" y2="387.6" stroke="#222" stroke-width="1.0" stroke-dasharray="1.5 2.0"/>
<line x1="403" y1="562.2" x2="768.2" y2="333.6" stroke="#222" stroke-width="1.0"/>
<rect x="509.9" y="326.6" width="5.2" height="5.2" fill="#000"/>
<text transform="translate(525,331.9) scale(0.9091,1)" font-size="10.12" fill="#111">C4</text>
<text transform="translate(541.6,331.9) scale(0.9091,1)" font-size="10.12" fill="#111">0 ng/mL</text>
<rect x="510.15" y="337.95" width="4.7" height="4.7" fill="#fff" stroke="#333" stroke-width="0.9"/>
<text transform="translate(525,343) scale(0.9091,1)" font-size="10.12" fill="#111">C4</text>
<text transform="translate(541.6,343) scale(0.9091,1)" font-size="10.12" fill="#111">5.3 ng/mL</text>
<circle cx="512.5" cy="351.4" r="3" fill="#000"/>
<text transform="translate(525,354.1) scale(0.9091,1)" font-size="10.12" fill="#111">C4</text>
<text transform="translate(541.6,354.1) scale(0.9091,1)" font-size="10.12" fill="#111"><tspan class="o1">1</tspan><tspan class="o1">1</tspan> ng/mL</text>
<circle cx="512.5" cy="362.6" r="2.65" fill="#fff" stroke="#333" stroke-width="0.9"/>
<text transform="translate(525,365.3) scale(0.9091,1)" font-size="10.12" fill="#111">C4</text>
<text transform="translate(541.6,365.3) scale(0.9091,1)" font-size="10.12" fill="#111">2<tspan class="o1">1</tspan> ng/mL</text>
<line x1="2" y1="828.3" x2="382" y2="828.3" stroke="#333" stroke-width="1.5"/>
<line x1="97.4" y1="623" x2="97.4" y2="884.2" stroke="#333" stroke-width="1.5"/>
<line x1="2.62" y1="828.3" x2="2.62" y2="831.2" stroke="#222" stroke-width="1.0"/>
<line x1="16.16" y1="828.3" x2="16.16" y2="833.3" stroke="#222" stroke-width="1.0"/>
<line x1="29.7" y1="828.3" x2="29.7" y2="831.2" stroke="#222" stroke-width="1.0"/>
<line x1="43.24" y1="828.3" x2="43.24" y2="833.3" stroke="#222" stroke-width="1.0"/>
<line x1="56.78" y1="828.3" x2="56.78" y2="831.2" stroke="#222" stroke-width="1.0"/>
<line x1="70.32" y1="828.3" x2="70.32" y2="833.3" stroke="#222" stroke-width="1.0"/>
<line x1="83.86" y1="828.3" x2="83.86" y2="831.2" stroke="#222" stroke-width="1.0"/>
<line x1="97.4" y1="828.3" x2="97.4" y2="833.3" stroke="#222" stroke-width="1.0"/>
<line x1="110.94" y1="828.3" x2="110.94" y2="831.2" stroke="#222" stroke-width="1.0"/>
<line x1="124.48" y1="828.3" x2="124.48" y2="833.3" stroke="#222" stroke-width="1.0"/>
<line x1="138.02" y1="828.3" x2="138.02" y2="831.2" stroke="#222" stroke-width="1.0"/>
<line x1="151.56" y1="828.3" x2="151.56" y2="833.3" stroke="#222" stroke-width="1.0"/>
<line x1="165.1" y1="828.3" x2="165.1" y2="831.2" stroke="#222" stroke-width="1.0"/>
<line x1="178.64" y1="828.3" x2="178.64" y2="833.3" stroke="#222" stroke-width="1.0"/>
<line x1="192.18" y1="828.3" x2="192.18" y2="831.2" stroke="#222" stroke-width="1.0"/>
<line x1="205.72" y1="828.3" x2="205.72" y2="833.3" stroke="#222" stroke-width="1.0"/>
<line x1="219.26" y1="828.3" x2="219.26" y2="831.2" stroke="#222" stroke-width="1.0"/>
<line x1="232.8" y1="828.3" x2="232.8" y2="833.3" stroke="#222" stroke-width="1.0"/>
<line x1="246.34" y1="828.3" x2="246.34" y2="831.2" stroke="#222" stroke-width="1.0"/>
<line x1="259.88" y1="828.3" x2="259.88" y2="833.3" stroke="#222" stroke-width="1.0"/>
<line x1="273.42" y1="828.3" x2="273.42" y2="831.2" stroke="#222" stroke-width="1.0"/>
<line x1="286.96" y1="828.3" x2="286.96" y2="833.3" stroke="#222" stroke-width="1.0"/>
<line x1="300.5" y1="828.3" x2="300.5" y2="831.2" stroke="#222" stroke-width="1.0"/>
<line x1="314.04" y1="828.3" x2="314.04" y2="833.3" stroke="#222" stroke-width="1.0"/>
<line x1="327.58" y1="828.3" x2="327.58" y2="831.2" stroke="#222" stroke-width="1.0"/>
<line x1="341.12" y1="828.3" x2="341.12" y2="833.3" stroke="#222" stroke-width="1.0"/>
<line x1="354.66" y1="828.3" x2="354.66" y2="831.2" stroke="#222" stroke-width="1.0"/>
<line x1="368.2" y1="828.3" x2="368.2" y2="833.3" stroke="#222" stroke-width="1.0"/>
<line x1="381.74" y1="828.3" x2="381.74" y2="831.2" stroke="#222" stroke-width="1.0"/>
<line x1="92.4" y1="874.9" x2="97.4" y2="874.9" stroke="#222" stroke-width="1.0"/>
<line x1="94.5" y1="863.25" x2="97.4" y2="863.25" stroke="#222" stroke-width="1.0"/>
<line x1="92.4" y1="851.6" x2="97.4" y2="851.6" stroke="#222" stroke-width="1.0"/>
<line x1="94.5" y1="839.95" x2="97.4" y2="839.95" stroke="#222" stroke-width="1.0"/>
<line x1="92.4" y1="828.3" x2="97.4" y2="828.3" stroke="#222" stroke-width="1.0"/>
<line x1="94.5" y1="816.65" x2="97.4" y2="816.65" stroke="#222" stroke-width="1.0"/>
<line x1="92.4" y1="805" x2="97.4" y2="805" stroke="#222" stroke-width="1.0"/>
<line x1="94.5" y1="793.35" x2="97.4" y2="793.35" stroke="#222" stroke-width="1.0"/>
<line x1="92.4" y1="781.7" x2="97.4" y2="781.7" stroke="#222" stroke-width="1.0"/>
<line x1="94.5" y1="770.05" x2="97.4" y2="770.05" stroke="#222" stroke-width="1.0"/>
<line x1="92.4" y1="758.4" x2="97.4" y2="758.4" stroke="#222" stroke-width="1.0"/>
<line x1="94.5" y1="746.75" x2="97.4" y2="746.75" stroke="#222" stroke-width="1.0"/>
<line x1="92.4" y1="735.1" x2="97.4" y2="735.1" stroke="#222" stroke-width="1.0"/>
<line x1="94.5" y1="723.45" x2="97.4" y2="723.45" stroke="#222" stroke-width="1.0"/>
<line x1="92.4" y1="711.8" x2="97.4" y2="711.8" stroke="#222" stroke-width="1.0"/>
<line x1="94.5" y1="700.15" x2="97.4" y2="700.15" stroke="#222" stroke-width="1.0"/>
<line x1="92.4" y1="688.5" x2="97.4" y2="688.5" stroke="#222" stroke-width="1.0"/>
<line x1="94.5" y1="676.85" x2="97.4" y2="676.85" stroke="#222" stroke-width="1.0"/>
<line x1="92.4" y1="665.2" x2="97.4" y2="665.2" stroke="#222" stroke-width="1.0"/>
<line x1="94.5" y1="653.55" x2="97.4" y2="653.55" stroke="#222" stroke-width="1.0"/>
<line x1="92.4" y1="641.9" x2="97.4" y2="641.9" stroke="#222" stroke-width="1.0"/>
<line x1="94.5" y1="630.25" x2="97.4" y2="630.25" stroke="#222" stroke-width="1.0"/>
<text x="16.16" y="841.3" font-size="10" text-anchor="middle" fill="#111">-0,6</text>
<text x="43.24" y="841.3" font-size="10" text-anchor="middle" fill="#111">-0,4</text>
<text x="70.32" y="841.3" font-size="10" text-anchor="middle" fill="#111">-0,2</text>
<text x="124.48" y="841.3" font-size="10" text-anchor="middle" fill="#111">0,2</text>
<text x="151.56" y="841.3" font-size="10" text-anchor="middle" fill="#111">0,4</text>
<text x="178.64" y="841.3" font-size="10" text-anchor="middle" fill="#111">0,6</text>
<text x="205.72" y="841.3" font-size="10" text-anchor="middle" fill="#111">0,8</text>
<text x="232.8" y="841.3" font-size="10" text-anchor="middle" fill="#111"><tspan class="o1">1</tspan>,0</text>
<text x="259.88" y="841.3" font-size="10" text-anchor="middle" fill="#111"><tspan class="o1">1</tspan>,2</text>
<text x="286.96" y="841.3" font-size="10" text-anchor="middle" fill="#111"><tspan class="o1">1</tspan>,4</text>
<text x="314.04" y="841.3" font-size="10" text-anchor="middle" fill="#111"><tspan class="o1">1</tspan>,6</text>
<text x="341.12" y="841.3" font-size="10" text-anchor="middle" fill="#111"><tspan class="o1">1</tspan>,8</text>
<text x="368.2" y="841.3" font-size="10" text-anchor="middle" fill="#111">2,0</text>
<text x="93.6" y="878" font-size="10" text-anchor="end" fill="#111">-500</text>
<text x="93.6" y="854.7" font-size="10" text-anchor="end" fill="#111">-250</text>
<text x="93.6" y="808.1" font-size="10" text-anchor="end" fill="#111">250</text>
<text x="93.6" y="784.8" font-size="10" text-anchor="end" fill="#111">500</text>
<text x="93.6" y="761.5" font-size="10" text-anchor="end" fill="#111">750</text>
<text x="93.6" y="738.2" font-size="10" text-anchor="end" fill="#111"><tspan class="o1">1</tspan>000</text>
<text x="93.6" y="714.9" font-size="10" text-anchor="end" fill="#111"><tspan class="o1">1</tspan>250</text>
<text x="93.6" y="691.6" font-size="10" text-anchor="end" fill="#111"><tspan class="o1">1</tspan>500</text>
<text x="93.6" y="668.3" font-size="10" text-anchor="end" fill="#111"><tspan class="o1">1</tspan>750</text>
<text x="93.6" y="645" font-size="10" text-anchor="end" fill="#111">2000</text>
<text x="183.4" y="859.5" font-size="12.3" fill="#111"><tspan class="o1">1</tspan>/[PNPG] (mM)<tspan font-size="6.89" dy="-6.40">-<tspan class="o1">1</tspan></tspan></text>
<text transform="translate(64.3,763.2) rotate(-90)" font-size="12.3" fill="#111"><tspan class="o1">1</tspan>/V (mM/min)<tspan font-size="6.89" dy="-6.40">-<tspan class="o1">1</tspan></tspan></text>
<rect x="202.7" y="783.4" width="5.6" height="5.6" fill="#000"/>
<rect x="229.7" y="780.8" width="5.6" height="5.6" fill="#000"/>
<rect x="274.8" y="767.4" width="5.6" height="5.6" fill="#000"/>
<rect x="365" y="760.2" width="5.6" height="5.6" fill="#000"/>
<rect x="202.9" y="769.4" width="5.2" height="5.2" fill="#fff" stroke="#333" stroke-width="0.9"/>
<rect x="229.9" y="759.1" width="5.2" height="5.2" fill="#fff" stroke="#333" stroke-width="0.9"/>
<rect x="275" y="740.6" width="5.2" height="5.2" fill="#fff" stroke="#333" stroke-width="0.9"/>
<rect x="365.2" y="721.8" width="5.2" height="5.2" fill="#fff" stroke="#333" stroke-width="0.9"/>
<circle cx="205.5" cy="756.6" r="3.1" fill="#000"/>
<circle cx="232.5" cy="745.7" r="3.1" fill="#000"/>
<circle cx="277.6" cy="717.1" r="3.1" fill="#000"/>
<circle cx="367.8" cy="685.7" r="3.1" fill="#000"/>
<circle cx="205.5" cy="732.9" r="2.75" fill="#fff" stroke="#333" stroke-width="0.9"/>
<circle cx="232.5" cy="720.5" r="2.75" fill="#fff" stroke="#333" stroke-width="0.9"/>
<circle cx="277.6" cy="697.8" r="2.75" fill="#fff" stroke="#333" stroke-width="0.9"/>
<circle cx="367.8" cy="636.7" r="2.75" fill="#fff" stroke="#333" stroke-width="0.9"/>
<line x1="2" y1="814.8" x2="367.8" y2="761.7" stroke="#222" stroke-width="1.0"/>
<line x1="2" y1="828.1" x2="367.8" y2="723" stroke="#222" stroke-width="1.0" stroke-dasharray="3.2 1.9"/>
<line x1="2" y1="844.7" x2="367.8" y2="683" stroke="#222" stroke-width="1.0" stroke-dasharray="1.5 2.0"/>
<line x1="2" y1="857.9" x2="367.8" y2="639.3" stroke="#222" stroke-width="1.0"/>
<rect x="115.5" y="628.9" width="5.2" height="5.2" fill="#000"/>
<text transform="translate(130.6,634.2) scale(0.9091,1)" font-size="10.12" fill="#111">C5</text>
<text transform="translate(147.5,634.2) scale(0.9091,1)" font-size="10.12" fill="#111">0 ng/mL</text>
<rect x="115.75" y="640.25" width="4.7" height="4.7" fill="#fff" stroke="#333" stroke-width="0.9"/>
<text transform="translate(130.6,645.3) scale(0.9091,1)" font-size="10.12" fill="#111">C5</text>
<text transform="translate(147.5,645.3) scale(0.9091,1)" font-size="10.12" fill="#111">39 ng/mL</text>
<circle cx="118.1" cy="653.6" r="3" fill="#000"/>
<text transform="translate(130.6,656.3) scale(0.9091,1)" font-size="10.12" fill="#111">C5</text>
<text transform="translate(147.5,656.3) scale(0.9091,1)" font-size="10.12" fill="#111">78 ng/mL</text>
<circle cx="118.1" cy="664.7" r="2.65" fill="#fff" stroke="#333" stroke-width="0.9"/>
<text transform="translate(130.6,667.4) scale(0.9091,1)" font-size="10.12" fill="#111">C5</text>
<text transform="translate(147.5,667.4) scale(0.9091,1)" font-size="10.12" fill="#111"><tspan class="o1">1</tspan>56 ng/mL</text>
<line x1="401.3" y1="828" x2="779.4" y2="828" stroke="#333" stroke-width="1.5"/>
<line x1="452.3" y1="620.8" x2="452.3" y2="882.3" stroke="#333" stroke-width="1.5"/>
<line x1="408.65" y1="828" x2="408.65" y2="830.9" stroke="#222" stroke-width="1.0"/>
<line x1="423.2" y1="828" x2="423.2" y2="833" stroke="#222" stroke-width="1.0"/>
<line x1="437.75" y1="828" x2="437.75" y2="830.9" stroke="#222" stroke-width="1.0"/>
<line x1="452.3" y1="828" x2="452.3" y2="833" stroke="#222" stroke-width="1.0"/>
<line x1="466.85" y1="828" x2="466.85" y2="830.9" stroke="#222" stroke-width="1.0"/>
<line x1="481.4" y1="828" x2="481.4" y2="833" stroke="#222" stroke-width="1.0"/>
<line x1="495.95" y1="828" x2="495.95" y2="830.9" stroke="#222" stroke-width="1.0"/>
<line x1="510.5" y1="828" x2="510.5" y2="833" stroke="#222" stroke-width="1.0"/>
<line x1="525.05" y1="828" x2="525.05" y2="830.9" stroke="#222" stroke-width="1.0"/>
<line x1="539.6" y1="828" x2="539.6" y2="833" stroke="#222" stroke-width="1.0"/>
<line x1="554.15" y1="828" x2="554.15" y2="830.9" stroke="#222" stroke-width="1.0"/>
<line x1="568.7" y1="828" x2="568.7" y2="833" stroke="#222" stroke-width="1.0"/>
<line x1="583.25" y1="828" x2="583.25" y2="830.9" stroke="#222" stroke-width="1.0"/>
<line x1="597.8" y1="828" x2="597.8" y2="833" stroke="#222" stroke-width="1.0"/>
<line x1="612.35" y1="828" x2="612.35" y2="830.9" stroke="#222" stroke-width="1.0"/>
<line x1="626.9" y1="828" x2="626.9" y2="833" stroke="#222" stroke-width="1.0"/>
<line x1="641.45" y1="828" x2="641.45" y2="830.9" stroke="#222" stroke-width="1.0"/>
<line x1="656" y1="828" x2="656" y2="833" stroke="#222" stroke-width="1.0"/>
<line x1="670.55" y1="828" x2="670.55" y2="830.9" stroke="#222" stroke-width="1.0"/>
<line x1="685.1" y1="828" x2="685.1" y2="833" stroke="#222" stroke-width="1.0"/>
<line x1="699.65" y1="828" x2="699.65" y2="830.9" stroke="#222" stroke-width="1.0"/>
<line x1="714.2" y1="828" x2="714.2" y2="833" stroke="#222" stroke-width="1.0"/>
<line x1="728.75" y1="828" x2="728.75" y2="830.9" stroke="#222" stroke-width="1.0"/>
<line x1="743.3" y1="828" x2="743.3" y2="833" stroke="#222" stroke-width="1.0"/>
<line x1="757.85" y1="828" x2="757.85" y2="830.9" stroke="#222" stroke-width="1.0"/>
<line x1="772.4" y1="828" x2="772.4" y2="833" stroke="#222" stroke-width="1.0"/>
<line x1="401.8" y1="828" x2="401.8" y2="830.9" stroke="#222" stroke-width="1.0"/>
<line x1="778.9" y1="828" x2="778.9" y2="830.9" stroke="#222" stroke-width="1.0"/>
<line x1="449.4" y1="882.38" x2="452.3" y2="882.38" stroke="#222" stroke-width="1.0"/>
<line x1="447.3" y1="871.5" x2="452.3" y2="871.5" stroke="#222" stroke-width="1.0"/>
<line x1="449.4" y1="860.62" x2="452.3" y2="860.62" stroke="#222" stroke-width="1.0"/>
<line x1="447.3" y1="849.75" x2="452.3" y2="849.75" stroke="#222" stroke-width="1.0"/>
<line x1="449.4" y1="838.88" x2="452.3" y2="838.88" stroke="#222" stroke-width="1.0"/>
<line x1="447.3" y1="828" x2="452.3" y2="828" stroke="#222" stroke-width="1.0"/>
<line x1="449.4" y1="817.12" x2="452.3" y2="817.12" stroke="#222" stroke-width="1.0"/>
<line x1="447.3" y1="806.25" x2="452.3" y2="806.25" stroke="#222" stroke-width="1.0"/>
<line x1="449.4" y1="795.38" x2="452.3" y2="795.38" stroke="#222" stroke-width="1.0"/>
<line x1="447.3" y1="784.5" x2="452.3" y2="784.5" stroke="#222" stroke-width="1.0"/>
<line x1="449.4" y1="773.62" x2="452.3" y2="773.62" stroke="#222" stroke-width="1.0"/>
<line x1="447.3" y1="762.75" x2="452.3" y2="762.75" stroke="#222" stroke-width="1.0"/>
<line x1="449.4" y1="751.88" x2="452.3" y2="751.88" stroke="#222" stroke-width="1.0"/>
<line x1="447.3" y1="741" x2="452.3" y2="741" stroke="#222" stroke-width="1.0"/>
<line x1="449.4" y1="730.12" x2="452.3" y2="730.12" stroke="#222" stroke-width="1.0"/>
<line x1="447.3" y1="719.25" x2="452.3" y2="719.25" stroke="#222" stroke-width="1.0"/>
<line x1="449.4" y1="708.38" x2="452.3" y2="708.38" stroke="#222" stroke-width="1.0"/>
<line x1="447.3" y1="697.5" x2="452.3" y2="697.5" stroke="#222" stroke-width="1.0"/>
<line x1="449.4" y1="686.62" x2="452.3" y2="686.62" stroke="#222" stroke-width="1.0"/>
<line x1="447.3" y1="675.75" x2="452.3" y2="675.75" stroke="#222" stroke-width="1.0"/>
<line x1="449.4" y1="664.88" x2="452.3" y2="664.88" stroke="#222" stroke-width="1.0"/>
<line x1="447.3" y1="654" x2="452.3" y2="654" stroke="#222" stroke-width="1.0"/>
<line x1="449.4" y1="643.12" x2="452.3" y2="643.12" stroke="#222" stroke-width="1.0"/>
<line x1="447.3" y1="632.25" x2="452.3" y2="632.25" stroke="#222" stroke-width="1.0"/>
<line x1="449.4" y1="621.38" x2="452.3" y2="621.38" stroke="#222" stroke-width="1.0"/>
<text x="423.2" y="844" font-size="10" text-anchor="middle" fill="#111">-0,4</text>
<text x="481.4" y="844" font-size="10" text-anchor="middle" fill="#111">0,4</text>
<text x="510.5" y="844" font-size="10" text-anchor="middle" fill="#111">0,8</text>
<text x="539.6" y="844" font-size="10" text-anchor="middle" fill="#111"><tspan class="o1">1</tspan>,2</text>
<text x="568.7" y="844" font-size="10" text-anchor="middle" fill="#111"><tspan class="o1">1</tspan>,6</text>
<text x="597.8" y="844" font-size="10" text-anchor="middle" fill="#111">2,0</text>
<text x="626.9" y="844" font-size="10" text-anchor="middle" fill="#111">2,4</text>
<text x="656" y="844" font-size="10" text-anchor="middle" fill="#111">2,8</text>
<text x="685.1" y="844" font-size="10" text-anchor="middle" fill="#111">3,2</text>
<text x="714.2" y="844" font-size="10" text-anchor="middle" fill="#111">3,6</text>
<text x="743.3" y="844" font-size="10" text-anchor="middle" fill="#111">4,0</text>
<text x="772.4" y="844" font-size="10" text-anchor="middle" fill="#111">4,4</text>
<text x="448.7" y="874.6" font-size="10" text-anchor="end" fill="#111">-400</text>
<text x="448.7" y="852.85" font-size="10" text-anchor="end" fill="#111">-200</text>
<text x="448.7" y="809.35" font-size="10" text-anchor="end" fill="#111">200</text>
<text x="448.7" y="787.6" font-size="10" text-anchor="end" fill="#111">400</text>
<text x="448.7" y="765.85" font-size="10" text-anchor="end" fill="#111">600</text>
<text x="448.7" y="744.1" font-size="10" text-anchor="end" fill="#111">800</text>
<text x="448.7" y="722.35" font-size="10" text-anchor="end" fill="#111"><tspan class="o1">1</tspan>000</text>
<text x="448.7" y="700.6" font-size="10" text-anchor="end" fill="#111"><tspan class="o1">1</tspan>200</text>
<text x="448.7" y="678.85" font-size="10" text-anchor="end" fill="#111"><tspan class="o1">1</tspan>400</text>
<text x="448.7" y="657.1" font-size="10" text-anchor="end" fill="#111"><tspan class="o1">1</tspan>600</text>
<text x="448.7" y="635.35" font-size="10" text-anchor="end" fill="#111"><tspan class="o1">1</tspan>800</text>
<text x="568.1" y="861.9" font-size="12.3" fill="#111"><tspan class="o1">1</tspan>/[PNPG] (mM)<tspan font-size="6.89" dy="-6.40">-<tspan class="o1">1</tspan></tspan></text>
<text transform="translate(418.3,752.9) rotate(-90)" font-size="12.3" fill="#111"><tspan class="o1">1</tspan>/V (mM/min)<tspan font-size="6.89" dy="-6.40">-<tspan class="o1">1</tspan></tspan></text>
<rect x="498.2" y="764.1" width="5.6" height="5.6" fill="#000"/>
<rect x="522.4" y="761.2" width="5.6" height="5.6" fill="#000"/>
<rect x="595.1" y="742.4" width="5.6" height="5.6" fill="#000"/>
<rect x="740.4" y="722.7" width="5.6" height="5.6" fill="#000"/>
<rect x="498.4" y="760.1" width="5.2" height="5.2" fill="#fff" stroke="#333" stroke-width="0.9"/>
<rect x="522.6" y="754.6" width="5.2" height="5.2" fill="#fff" stroke="#333" stroke-width="0.9"/>
<rect x="595.3" y="730.6" width="5.2" height="5.2" fill="#fff" stroke="#333" stroke-width="0.9"/>
<rect x="740.6" y="696.1" width="5.2" height="5.2" fill="#fff" stroke="#333" stroke-width="0.9"/>
<circle cx="501" cy="757.2" r="3.1" fill="#000"/>
<circle cx="525.2" cy="745.8" r="3.1" fill="#000"/>
<circle cx="597.9" cy="716.2" r="3.1" fill="#000"/>
<circle cx="743.2" cy="665" r="3.1" fill="#000"/>
<circle cx="501" cy="750.6" r="2.75" fill="#fff" stroke="#333" stroke-width="0.9"/>
<circle cx="525.2" cy="737.9" r="2.75" fill="#fff" stroke="#333" stroke-width="0.9"/>
<circle cx="597.9" cy="699.9" r="2.75" fill="#fff" stroke="#333" stroke-width="0.9"/>
<circle cx="743.2" cy="631.6" r="2.75" fill="#fff" stroke="#333" stroke-width="0.9"/>
<line x1="401.2" y1="782.9" x2="742.4" y2="725.5" stroke="#222" stroke-width="1.0"/>
<line x1="401.2" y1="788.2" x2="742.4" y2="698.7" stroke="#222" stroke-width="1.0" stroke-dasharray="3.2 1.9"/>
<line x1="401.2" y1="792.5" x2="742.4" y2="665" stroke="#222" stroke-width="1.0" stroke-dasharray="1.5 2.0"/>
<line x1="401.2" y1="798.5" x2="742.4" y2="631.6" stroke="#222" stroke-width="1.0"/>
<rect x="463.4" y="630.4" width="5.2" height="5.2" fill="#000"/>
<text transform="translate(478.6,636.1) scale(0.9091,1)" font-size="10.01" fill="#111">Acarbose 0 mM</text>
<rect x="463.65" y="641.85" width="4.7" height="4.7" fill="#fff" stroke="#333" stroke-width="0.9"/>
<text transform="translate(478.6,647.3) scale(0.9091,1)" font-size="10.01" fill="#111">Acarbose 0.<tspan class="o1">1</tspan>2 mM</text>
<circle cx="466" cy="655.4" r="3" fill="#000"/>
<text transform="translate(478.6,658.5) scale(0.9091,1)" font-size="10.01" fill="#111">Acarbose 0.24 mM</text>
<circle cx="466" cy="666.5" r="2.65" fill="#fff" stroke="#333" stroke-width="0.9"/>
<text transform="translate(478.6,669.6) scale(0.9091,1)" font-size="10.01" fill="#111">Acarbose 0.36 mM</text>
<g fill="#111" stroke="#111">
<path transform="translate(231.847,225.900) scale(0.004883,-0.004883)" stroke-width="61.4" d="M505 0L505 1230L190 1005L190 1180L525 1409L706 1409L706 0Z"/>
<path transform="translate(258.847,225.900) scale(0.004883,-0.004883)" stroke-width="61.4" d="M505 0L505 1230L190 1005L190 1180L525 1409L706 1409L706 0Z"/>
<path transform="translate(285.847,225.900) scale(0.004883,-0.004883)" stroke-width="61.4" d="M505 0L505 1230L190 1005L190 1180L525 1409L706 1409L706 0Z"/>
<path transform="translate(312.847,225.900) scale(0.004883,-0.004883)" stroke-width="61.4" d="M505 0L505 1230L190 1005L190 1180L525 1409L706 1409L706 0Z"/>
<path transform="translate(339.847,225.900) scale(0.004883,-0.004883)" stroke-width="61.4" d="M505 0L505 1230L190 1005L190 1180L525 1409L706 1409L706 0Z"/>
<path transform="translate(77.950,115.500) scale(0.004883,-0.004883)" stroke-width="61.4" d="M505 0L505 1230L190 1005L190 1180L525 1409L706 1409L706 0Z"/>
<path transform="translate(77.950,90.450) scale(0.004883,-0.004883)" stroke-width="61.4" d="M505 0L505 1230L190 1005L190 1180L525 1409L706 1409L706 0Z"/>
<path transform="translate(77.950,65.400) scale(0.004883,-0.004883)" stroke-width="61.4" d="M505 0L505 1230L190 1005L190 1180L525 1409L706 1409L706 0Z"/>
<path transform="translate(77.950,40.350) scale(0.004883,-0.004883)" stroke-width="61.4" d="M505 0L505 1230L190 1005L190 1180L525 1409L706 1409L706 0Z"/>
<path transform="translate(190.200,246.100) scale(0.006006,-0.006006)" stroke-width="50.0" d="M505 0L505 1230L190 1005L190 1180L525 1409L706 1409L706 0Z"/>
<path transform="translate(276.544,239.700) scale(0.003364,-0.003364)" stroke-width="89.2" d="M505 0L505 1230L190 1005L190 1180L525 1409L706 1409L706 0Z"/>
<g transform="translate(67.5,146.5) rotate(-90)"><path transform="translate(0.000,0.000) scale(0.006006,-0.006006)" stroke-width="50.0" d="M505 0L505 1230L190 1005L190 1180L525 1409L706 1409L706 0Z"/></g>
<g transform="translate(67.5,146.5) rotate(-90)"><path transform="translate(76.094,-6.400) scale(0.003364,-0.003364)" stroke-width="89.2" d="M505 0L505 1230L190 1005L190 1180L525 1409L706 1409L706 0Z"/></g>
<g transform="translate(133.2,13.9) scale(0.9091,1)"><path transform="translate(7.312,0.000) scale(0.004941,-0.004941)" stroke-width="60.7" d="M505 0L505 1230L190 1005L190 1180L525 1409L706 1409L706 0Z"/></g>
<g transform="translate(133.2,25.1) scale(0.9091,1)"><path transform="translate(7.312,0.000) scale(0.004941,-0.004941)" stroke-width="60.7" d="M505 0L505 1230L190 1005L190 1180L525 1409L706 1409L706 0Z"/></g>
<g transform="translate(149.7,25.1) scale(0.9091,1)"><path transform="translate(0.000,0.000) scale(0.004941,-0.004941)" stroke-width="60.7" d="M505 0L505 1230L190 1005L190 1180L525 1409L706 1409L706 0Z"/></g>
<g transform="translate(149.7,25.1) scale(0.9091,1)"><path transform="translate(4.875,0.000) scale(0.004941,-0.004941)" stroke-width="60.7" d="M505 0L505 1230L190 1005L190 1180L525 1409L706 1409L706 0Z"/></g>
<g transform="translate(133.2,36.2) scale(0.9091,1)"><path transform="translate(7.312,0.000) scale(0.004941,-0.004941)" stroke-width="60.7" d="M505 0L505 1230L190 1005L190 1180L525 1409L706 1409L706 0Z"/></g>
<g transform="translate(133.2,47.3) scale(0.9091,1)"><path transform="translate(7.312,0.000) scale(0.004941,-0.004941)" stroke-width="60.7" d="M505 0L505 1230L190 1005L190 1180L525 1409L706 1409L706 0Z"/></g>
<path transform="translate(625.147,226.600) scale(0.004883,-0.004883)" stroke-width="61.4" d="M505 0L505 1230L190 1005L190 1180L525 1409L706 1409L706 0Z"/>
<path transform="translate(652.167,226.600) scale(0.004883,-0.004883)" stroke-width="61.4" d="M505 0L505 1230L190 1005L190 1180L525 1409L706 1409L706 0Z"/>
<path transform="translate(679.187,226.600) scale(0.004883,-0.004883)" stroke-width="61.4" d="M505 0L505 1230L190 1005L190 1180L525 1409L706 1409L706 0Z"/>
<path transform="translate(706.207,226.600) scale(0.004883,-0.004883)" stroke-width="61.4" d="M505 0L505 1230L190 1005L190 1180L525 1409L706 1409L706 0Z"/>
<path transform="translate(733.227,226.600) scale(0.004883,-0.004883)" stroke-width="61.4" d="M505 0L505 1230L190 1005L190 1180L525 1409L706 1409L706 0Z"/>
<path transform="translate(467.150,92.500) scale(0.004883,-0.004883)" stroke-width="61.4" d="M505 0L505 1230L190 1005L190 1180L525 1409L706 1409L706 0Z"/>
<path transform="translate(467.150,61.450) scale(0.004883,-0.004883)" stroke-width="61.4" d="M505 0L505 1230L190 1005L190 1180L525 1409L706 1409L706 0Z"/>
<path transform="translate(467.150,30.400) scale(0.004883,-0.004883)" stroke-width="61.4" d="M505 0L505 1230L190 1005L190 1180L525 1409L706 1409L706 0Z"/>
<path transform="translate(573.400,246.900) scale(0.006006,-0.006006)" stroke-width="50.0" d="M505 0L505 1230L190 1005L190 1180L525 1409L706 1409L706 0Z"/>
<path transform="translate(659.744,240.500) scale(0.003364,-0.003364)" stroke-width="89.2" d="M505 0L505 1230L190 1005L190 1180L525 1409L706 1409L706 0Z"/>
<g transform="translate(458,158.7) rotate(-90)"><path transform="translate(0.000,0.000) scale(0.006006,-0.006006)" stroke-width="50.0" d="M505 0L505 1230L190 1005L190 1180L525 1409L706 1409L706 0Z"/></g>
<g transform="translate(458,158.7) rotate(-90)"><path transform="translate(76.094,-6.400) scale(0.003364,-0.003364)" stroke-width="89.2" d="M505 0L505 1230L190 1005L190 1180L525 1409L706 1409L706 0Z"/></g>
<g transform="translate(544.8,54) scale(0.9091,1)"><path transform="translate(0.000,0.000) scale(0.004834,-0.004834)" stroke-width="62.1" d="M505 0L505 1230L190 1005L190 1180L525 1409L706 1409L706 0Z"/></g>
<g transform="translate(544.8,54) scale(0.9091,1)"><path transform="translate(8.250,0.000) scale(0.004834,-0.004834)" stroke-width="62.1" d="M505 0L505 1230L190 1005L190 1180L525 1409L706 1409L706 0Z"/></g>
<path transform="translate(226.197,541.400) scale(0.004883,-0.004883)" stroke-width="61.4" d="M505 0L505 1230L190 1005L190 1180L525 1409L706 1409L706 0Z"/>
<path transform="translate(253.207,541.400) scale(0.004883,-0.004883)" stroke-width="61.4" d="M505 0L505 1230L190 1005L190 1180L525 1409L706 1409L706 0Z"/>
<path transform="translate(280.217,541.400) scale(0.004883,-0.004883)" stroke-width="61.4" d="M505 0L505 1230L190 1005L190 1180L525 1409L706 1409L706 0Z"/>
<path transform="translate(307.227,541.400) scale(0.004883,-0.004883)" stroke-width="61.4" d="M505 0L505 1230L190 1005L190 1180L525 1409L706 1409L706 0Z"/>
<path transform="translate(334.237,541.400) scale(0.004883,-0.004883)" stroke-width="61.4" d="M505 0L505 1230L190 1005L190 1180L525 1409L706 1409L706 0Z"/>
<path transform="translate(68.050,430.500) scale(0.004883,-0.004883)" stroke-width="61.4" d="M505 0L505 1230L190 1005L190 1180L525 1409L706 1409L706 0Z"/>
<path transform="translate(68.050,405.300) scale(0.004883,-0.004883)" stroke-width="61.4" d="M505 0L505 1230L190 1005L190 1180L525 1409L706 1409L706 0Z"/>
<path transform="translate(68.050,380.100) scale(0.004883,-0.004883)" stroke-width="61.4" d="M505 0L505 1230L190 1005L190 1180L525 1409L706 1409L706 0Z"/>
<path transform="translate(68.050,354.900) scale(0.004883,-0.004883)" stroke-width="61.4" d="M505 0L505 1230L190 1005L190 1180L525 1409L706 1409L706 0Z"/>
<path transform="translate(165.200,560.400) scale(0.006006,-0.006006)" stroke-width="50.0" d="M505 0L505 1230L190 1005L190 1180L525 1409L706 1409L706 0Z"/>
<path transform="translate(251.544,554.000) scale(0.003364,-0.003364)" stroke-width="89.2" d="M505 0L505 1230L190 1005L190 1180L525 1409L706 1409L706 0Z"/>
<g transform="translate(60.8,465.4) rotate(-90)"><path transform="translate(0.000,0.000) scale(0.006006,-0.006006)" stroke-width="50.0" d="M505 0L505 1230L190 1005L190 1180L525 1409L706 1409L706 0Z"/></g>
<g transform="translate(60.8,465.4) rotate(-90)"><path transform="translate(76.094,-6.400) scale(0.003364,-0.003364)" stroke-width="89.2" d="M505 0L505 1230L190 1005L190 1180L525 1409L706 1409L706 0Z"/></g>
<g transform="translate(142.2,351.1) scale(0.9091,1)"><path transform="translate(0.000,0.000) scale(0.004941,-0.004941)" stroke-width="60.7" d="M505 0L505 1230L190 1005L190 1180L525 1409L706 1409L706 0Z"/></g>
<g transform="translate(142.2,362.3) scale(0.9091,1)"><path transform="translate(5.625,0.000) scale(0.004941,-0.004941)" stroke-width="60.7" d="M505 0L505 1230L190 1005L190 1180L525 1409L706 1409L706 0Z"/></g>
<g transform="translate(142.2,362.3) scale(0.9091,1)"><path transform="translate(10.500,0.000) scale(0.004941,-0.004941)" stroke-width="60.7" d="M505 0L505 1230L190 1005L190 1180L525 1409L706 1409L706 0Z"/></g>
<path transform="translate(626.247,542.300) scale(0.004883,-0.004883)" stroke-width="61.4" d="M505 0L505 1230L190 1005L190 1180L525 1409L706 1409L706 0Z"/>
<path transform="translate(653.247,542.300) scale(0.004883,-0.004883)" stroke-width="61.4" d="M505 0L505 1230L190 1005L190 1180L525 1409L706 1409L706 0Z"/>
<path transform="translate(680.247,542.300) scale(0.004883,-0.004883)" stroke-width="61.4" d="M505 0L505 1230L190 1005L190 1180L525 1409L706 1409L706 0Z"/>
<path transform="translate(707.247,542.300) scale(0.004883,-0.004883)" stroke-width="61.4" d="M505 0L505 1230L190 1005L190 1180L525 1409L706 1409L706 0Z"/>
<path transform="translate(734.247,542.300) scale(0.004883,-0.004883)" stroke-width="61.4" d="M505 0L505 1230L190 1005L190 1180L525 1409L706 1409L706 0Z"/>
<path transform="translate(472.150,428.000) scale(0.004883,-0.004883)" stroke-width="61.4" d="M505 0L505 1230L190 1005L190 1180L525 1409L706 1409L706 0Z"/>
<path transform="translate(472.150,401.900) scale(0.004883,-0.004883)" stroke-width="61.4" d="M505 0L505 1230L190 1005L190 1180L525 1409L706 1409L706 0Z"/>
<path transform="translate(472.150,375.800) scale(0.004883,-0.004883)" stroke-width="61.4" d="M505 0L505 1230L190 1005L190 1180L525 1409L706 1409L706 0Z"/>
<path transform="translate(472.150,349.700) scale(0.004883,-0.004883)" stroke-width="61.4" d="M505 0L505 1230L190 1005L190 1180L525 1409L706 1409L706 0Z"/>
<path transform="translate(579.500,561.200) scale(0.006006,-0.006006)" stroke-width="50.0" d="M505 0L505 1230L190 1005L190 1180L525 1409L706 1409L706 0Z"/>
<path transform="translate(665.844,554.800) scale(0.003364,-0.003364)" stroke-width="89.2" d="M505 0L505 1230L190 1005L190 1180L525 1409L706 1409L706 0Z"/>
<g transform="translate(465.1,464.5) rotate(-90)"><path transform="translate(0.000,0.000) scale(0.006006,-0.006006)" stroke-width="50.0" d="M505 0L505 1230L190 1005L190 1180L525 1409L706 1409L706 0Z"/></g>
<g transform="translate(465.1,464.5) rotate(-90)"><path transform="translate(76.094,-6.400) scale(0.003364,-0.003364)" stroke-width="89.2" d="M505 0L505 1230L190 1005L190 1180L525 1409L706 1409L706 0Z"/></g>
<g transform="translate(541.6,354.1) scale(0.9091,1)"><path transform="translate(0.000,0.000) scale(0.004941,-0.004941)" stroke-width="60.7" d="M505 0L505 1230L190 1005L190 1180L525 1409L706 1409L706 0Z"/></g>
<g transform="translate(541.6,354.1) scale(0.9091,1)"><path transform="translate(4.875,0.000) scale(0.004941,-0.004941)" stroke-width="60.7" d="M505 0L505 1230L190 1005L190 1180L525 1409L706 1409L706 0Z"/></g>
<g transform="translate(541.6,365.3) scale(0.9091,1)"><path transform="translate(5.625,0.000) scale(0.004941,-0.004941)" stroke-width="60.7" d="M505 0L505 1230L190 1005L190 1180L525 1409L706 1409L706 0Z"/></g>
<path transform="translate(225.847,841.300) scale(0.004883,-0.004883)" stroke-width="61.4" d="M505 0L505 1230L190 1005L190 1180L525 1409L706 1409L706 0Z"/>
<path transform="translate(252.927,841.300) scale(0.004883,-0.004883)" stroke-width="61.4" d="M505 0L505 1230L190 1005L190 1180L525 1409L706 1409L706 0Z"/>
<path transform="translate(280.007,841.300) scale(0.004883,-0.004883)" stroke-width="61.4" d="M505 0L505 1230L190 1005L190 1180L525 1409L706 1409L706 0Z"/>
<path transform="translate(307.087,841.300) scale(0.004883,-0.004883)" stroke-width="61.4" d="M505 0L505 1230L190 1005L190 1180L525 1409L706 1409L706 0Z"/>
<path transform="translate(334.167,841.300) scale(0.004883,-0.004883)" stroke-width="61.4" d="M505 0L505 1230L190 1005L190 1180L525 1409L706 1409L706 0Z"/>
<path transform="translate(71.350,738.200) scale(0.004883,-0.004883)" stroke-width="61.4" d="M505 0L505 1230L190 1005L190 1180L525 1409L706 1409L706 0Z"/>
<path transform="translate(71.350,714.900) scale(0.004883,-0.004883)" stroke-width="61.4" d="M505 0L505 1230L190 1005L190 1180L525 1409L706 1409L706 0Z"/>
<path transform="translate(71.350,691.600) scale(0.004883,-0.004883)" stroke-width="61.4" d="M505 0L505 1230L190 1005L190 1180L525 1409L706 1409L706 0Z"/>
<path transform="translate(71.350,668.300) scale(0.004883,-0.004883)" stroke-width="61.4" d="M505 0L505 1230L190 1005L190 1180L525 1409L706 1409L706 0Z"/>
<path transform="translate(183.400,859.500) scale(0.006006,-0.006006)" stroke-width="50.0" d="M505 0L505 1230L190 1005L190 1180L525 1409L706 1409L706 0Z"/>
<path transform="translate(269.744,853.100) scale(0.003364,-0.003364)" stroke-width="89.2" d="M505 0L505 1230L190 1005L190 1180L525 1409L706 1409L706 0Z"/>
<g transform="translate(64.3,763.2) rotate(-90)"><path transform="translate(0.000,0.000) scale(0.006006,-0.006006)" stroke-width="50.0" d="M505 0L505 1230L190 1005L190 1180L525 1409L706 1409L706 0Z"/></g>
<g transform="translate(64.3,763.2) rotate(-90)"><path transform="translate(76.094,-6.400) scale(0.003364,-0.003364)" stroke-width="89.2" d="M505 0L505 1230L190 1005L190 1180L525 1409L706 1409L706 0Z"/></g>
<g transform="translate(147.5,667.4) scale(0.9091,1)"><path transform="translate(0.000,0.000) scale(0.004941,-0.004941)" stroke-width="60.7" d="M505 0L505 1230L190 1005L190 1180L525 1409L706 1409L706 0Z"/></g>
<path transform="translate(532.647,844.000) scale(0.004883,-0.004883)" stroke-width="61.4" d="M505 0L505 1230L190 1005L190 1180L525 1409L706 1409L706 0Z"/>
<path transform="translate(561.747,844.000) scale(0.004883,-0.004883)" stroke-width="61.4" d="M505 0L505 1230L190 1005L190 1180L525 1409L706 1409L706 0Z"/>
<path transform="translate(426.450,722.350) scale(0.004883,-0.004883)" stroke-width="61.4" d="M505 0L505 1230L190 1005L190 1180L525 1409L706 1409L706 0Z"/>
<path transform="translate(426.450,700.600) scale(0.004883,-0.004883)" stroke-width="61.4" d="M505 0L505 1230L190 1005L190 1180L525 1409L706 1409L706 0Z"/>
<path transform="translate(426.450,678.850) scale(0.004883,-0.004883)" stroke-width="61.4" d="M505 0L505 1230L190 1005L190 1180L525 1409L706 1409L706 0Z"/>
<path transform="translate(426.450,657.100) scale(0.004883,-0.004883)" stroke-width="61.4" d="M505 0L505 1230L190 1005L190 1180L525 1409L706 1409L706 0Z"/>
<path transform="translate(426.450,635.350) scale(0.004883,-0.004883)" stroke-width="61.4" d="M505 0L505 1230L190 1005L190 1180L525 1409L706 1409L706 0Z"/>
<path transform="translate(568.100,861.900) scale(0.006006,-0.006006)" stroke-width="50.0" d="M505 0L505 1230L190 1005L190 1180L525 1409L706 1409L706 0Z"/>
<path transform="translate(654.444,855.500) scale(0.003364,-0.003364)" stroke-width="89.2" d="M505 0L505 1230L190 1005L190 1180L525 1409L706 1409L706 0Z"/>
<g transform="translate(418.3,752.9) rotate(-90)"><path transform="translate(0.000,0.000) scale(0.006006,-0.006006)" stroke-width="50.0" d="M505 0L505 1230L190 1005L190 1180L525 1409L706 1409L706 0Z"/></g>
<g transform="translate(418.3,752.9) rotate(-90)"><path transform="translate(76.094,-6.400) scale(0.003364,-0.003364)" stroke-width="89.2" d="M505 0L505 1230L190 1005L190 1180L525 1409L706 1409L706 0Z"/></g>
<g transform="translate(478.6,647.3) scale(0.9091,1)"><path transform="translate(53.375,0.000) scale(0.004888,-0.004888)" stroke-width="61.4" d="M505 0L505 1230L190 1005L190 1180L525 1409L706 1409L706 0Z"/></g>
</g>
</g>
</svg>
</body></html>
